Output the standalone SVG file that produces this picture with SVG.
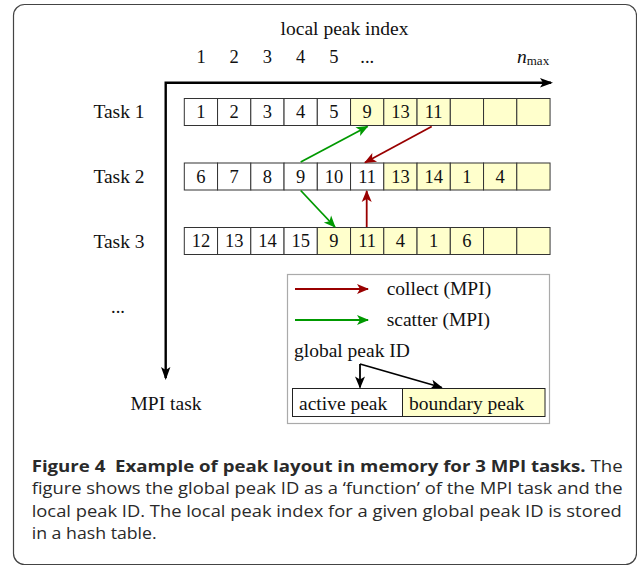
<svg xmlns="http://www.w3.org/2000/svg" width="637" height="568" viewBox="0 0 637 568">
<style>
.t{font-family:"Liberation Serif","Times New Roman",serif;font-size:19.5px;fill:#111}
.c{font-family:"Liberation Serif","Times New Roman",serif;font-size:18.5px;fill:#111;text-anchor:middle}
.cell{fill:#fff;stroke:#333;stroke-width:1}
.y{fill:#ffffcc}
.cap{font-family:"Open Sans","Noto Sans","Liberation Sans",sans-serif;font-size:16.5px;fill:#2a2a2a}
.g{stroke:#009900;stroke-width:1.8;fill:none}
.r{stroke:#990000;stroke-width:1.8;fill:none}
.k{stroke:#000;stroke-width:1.8;fill:none}
</style>
<defs>
<marker id="ag" markerUnits="userSpaceOnUse" markerWidth="14" markerHeight="12" viewBox="-12 -6 14 12" refX="0" refY="0" orient="auto"><path d="M1,0 L-11,-5 L-8,0 L-11,5 z" fill="#009900"/></marker>
<marker id="ar" markerUnits="userSpaceOnUse" markerWidth="14" markerHeight="12" viewBox="-12 -6 14 12" refX="0" refY="0" orient="auto"><path d="M1,0 L-11,-5 L-8,0 L-11,5 z" fill="#990000"/></marker>
<marker id="ak" markerUnits="userSpaceOnUse" markerWidth="14" markerHeight="12" viewBox="-12 -6 14 12" refX="0" refY="0" orient="auto"><path d="M1,0 L-11,-5 L-8,0 L-11,5 z" fill="#000"/></marker>
</defs>
<rect x="13.5" y="4.5" width="623" height="560" rx="11" fill="#fff" stroke="#444" stroke-width="1.2"/>

<g id="axes">
<path d="M165.7,378 L165.7,82.7 L551,82.7" stroke="#000" stroke-width="2.4" fill="none"/>
<path d="M165.7,380 L161,367 L165.7,370 L170.4,367 z" fill="#000"/>
<path d="M553,82.7 L540,78 L543,82.7 L540,87.4 z" fill="#000"/>
<text class="t" x="344.5" y="35" text-anchor="middle">local peak index</text>
<text class="c" x="201" y="63">1</text>
<text class="c" x="234.2" y="63">2</text>
<text class="c" x="267.4" y="63">3</text>
<text class="c" x="300.7" y="63">4</text>
<text class="c" x="333.9" y="63">5</text>
<text class="c" x="367.2" y="63">...</text>
<text class="t" x="517" y="63" font-style="italic">n<tspan font-size="13" font-style="normal" dy="2">max</tspan></text>
<text class="t" x="119" y="118" text-anchor="middle">Task 1</text>
<text class="t" x="119" y="183" text-anchor="middle">Task 2</text>
<text class="t" x="119" y="247.5" text-anchor="middle">Task 3</text>
<text class="c" x="118" y="313">...</text>
<text class="t" x="166" y="410" text-anchor="middle">MPI task</text>
</g>

<g id="task1">
<rect class="cell" x="184.3" y="98.5" width="33.25" height="27"/>
<rect class="cell" x="217.55" y="98.5" width="33.25" height="27"/>
<rect class="cell" x="250.8" y="98.5" width="33.25" height="27"/>
<rect class="cell" x="284.05" y="98.5" width="33.25" height="27"/>
<rect class="cell" x="317.3" y="98.5" width="33.25" height="27"/>
<rect class="cell y" x="350.55" y="98.5" width="33.25" height="27"/>
<rect class="cell y" x="383.8" y="98.5" width="33.25" height="27"/>
<rect class="cell y" x="417.05" y="98.5" width="33.25" height="27"/>
<rect class="cell y" x="450.3" y="98.5" width="33.25" height="27"/>
<rect class="cell y" x="483.55" y="98.5" width="33.25" height="27"/>
<rect class="cell y" x="516.8" y="98.5" width="33.25" height="27"/>
<text class="c" x="200.9" y="118">1</text>
<text class="c" x="234.2" y="118">2</text>
<text class="c" x="267.4" y="118">3</text>
<text class="c" x="300.7" y="118">4</text>
<text class="c" x="333.9" y="118">5</text>
<text class="c" x="367.2" y="118">9</text>
<text class="c" x="400.4" y="118">13</text>
<text class="c" x="433.7" y="118">11</text>
</g>

<g id="task2">
<rect class="cell" x="184.3" y="163" width="33.25" height="27"/>
<rect class="cell" x="217.55" y="163" width="33.25" height="27"/>
<rect class="cell" x="250.8" y="163" width="33.25" height="27"/>
<rect class="cell" x="284.05" y="163" width="33.25" height="27"/>
<rect class="cell" x="317.3" y="163" width="33.25" height="27"/>
<rect class="cell" x="350.55" y="163" width="33.25" height="27"/>
<rect class="cell y" x="383.8" y="163" width="33.25" height="27"/>
<rect class="cell y" x="417.05" y="163" width="33.25" height="27"/>
<rect class="cell y" x="450.3" y="163" width="33.25" height="27"/>
<rect class="cell y" x="483.55" y="163" width="33.25" height="27"/>
<rect class="cell y" x="516.8" y="163" width="33.25" height="27"/>
<text class="c" x="200.9" y="182.5">6</text>
<text class="c" x="234.2" y="182.5">7</text>
<text class="c" x="267.4" y="182.5">8</text>
<text class="c" x="300.7" y="182.5">9</text>
<text class="c" x="333.9" y="182.5">10</text>
<text class="c" x="367.2" y="182.5">11</text>
<text class="c" x="400.4" y="182.5">13</text>
<text class="c" x="433.7" y="182.5">14</text>
<text class="c" x="466.9" y="182.5">1</text>
<text class="c" x="500.2" y="182.5">4</text>
</g>

<g id="task3">
<rect class="cell" x="184.3" y="227.5" width="33.25" height="27"/>
<rect class="cell" x="217.55" y="227.5" width="33.25" height="27"/>
<rect class="cell" x="250.8" y="227.5" width="33.25" height="27"/>
<rect class="cell" x="284.05" y="227.5" width="33.25" height="27"/>
<rect class="cell y" x="317.3" y="227.5" width="33.25" height="27"/>
<rect class="cell y" x="350.55" y="227.5" width="33.25" height="27"/>
<rect class="cell y" x="383.8" y="227.5" width="33.25" height="27"/>
<rect class="cell y" x="417.05" y="227.5" width="33.25" height="27"/>
<rect class="cell y" x="450.3" y="227.5" width="33.25" height="27"/>
<rect class="cell y" x="483.55" y="227.5" width="33.25" height="27"/>
<rect class="cell y" x="516.8" y="227.5" width="33.25" height="27"/>
<text class="c" x="200.9" y="247">12</text>
<text class="c" x="234.2" y="247">13</text>
<text class="c" x="267.4" y="247">14</text>
<text class="c" x="300.7" y="247">15</text>
<text class="c" x="333.9" y="247">9</text>
<text class="c" x="367.2" y="247">11</text>
<text class="c" x="400.4" y="247">4</text>
<text class="c" x="433.7" y="247">1</text>
<text class="c" x="466.9" y="247">6</text>
</g>

<g id="connectors">
<path class="g" d="M300.7,162 L367.5,126.5" marker-end="url(#ag)"/>
<path class="r" d="M431.7,126.5 L365,162.5" marker-end="url(#ar)"/>
<path class="g" d="M300.7,190.5 L335,227" marker-end="url(#ag)"/>
<path class="r" d="M366.7,227 L366.7,191" marker-end="url(#ar)"/>
</g>

<g id="legend">
<rect x="287.5" y="274.5" width="262" height="149" fill="#fff" stroke="#aaa" stroke-width="1.2"/>
<path class="r" d="M295,289 L368,289" marker-end="url(#ar)"/>
<text class="t" x="386.7" y="295">collect (MPI)</text>
<path class="g" d="M295,320 L368,320" marker-end="url(#ag)"/>
<text class="t" x="386.7" y="326">scatter (MPI)</text>
<text class="t" x="294" y="357">global peak ID</text>
<path class="k" d="M360,364 L360,387.5" marker-end="url(#ak)"/>
<path class="k" d="M360,364 L441.7,387.5" marker-end="url(#ak)"/>
<rect x="292.5" y="388.5" width="110" height="28" fill="#fff" stroke="#222" stroke-width="1"/>
<rect x="402.5" y="388.5" width="142.5" height="28" fill="#ffffcc" stroke="#222" stroke-width="1"/>
<text class="t" x="299" y="409.5">active peak</text>
<text class="t" x="409" y="409.5">boundary peak</text>
</g>

<g id="caption">
<text class="cap" x="31.7" y="471.7" textLength="591" lengthAdjust="spacingAndGlyphs"><tspan font-weight="bold">Figure 4&#160; Example of peak layout in memory for 3 MPI tasks.</tspan> The</text>
<text class="cap" x="31.7" y="494" textLength="591" lengthAdjust="spacingAndGlyphs">figure shows the global peak ID as a ‘function’ of the MPI task and the</text>
<text class="cap" x="31.7" y="516.7" textLength="590" lengthAdjust="spacingAndGlyphs">local peak ID. The local peak index for a given global peak ID is stored</text>
<text class="cap" x="31.7" y="538.5" textLength="125" lengthAdjust="spacingAndGlyphs">in a hash table.</text>
</g>
</svg>
